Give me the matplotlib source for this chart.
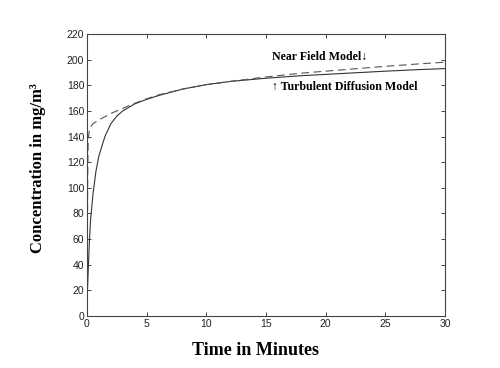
import matplotlib
matplotlib.use("Agg")
import matplotlib.pyplot as plt

# Turbulent diffusion model (solid)
t_solid = [0, 0.1, 0.2, 0.3, 0.5, 0.75, 1, 1.5, 2, 2.5, 3, 4, 5, 6, 8, 10, 12, 15, 18, 20, 22, 25, 28, 30]
c_solid = [10, 35, 58, 75, 95, 113, 125, 140, 150, 156, 160, 165.5, 169, 172, 177, 180.5, 183, 185.5,
           187.5, 188.5, 189.5, 191, 192.3, 193]

# Near field model (dashed)
t_dash = [0, 0.03, 0.06, 0.1, 0.2, 0.35, 0.5, 1, 1.5, 2, 3, 4, 5, 6, 8, 10, 12, 15, 18, 20, 22, 25, 28, 30]
c_dash = [5, 60, 110, 138, 145, 148, 150, 153, 155.5, 158, 162, 166, 169.5, 172.5, 177, 180.5, 183,
          186.5, 189.5, 191, 192.5, 194.8, 196.8, 198]

xticks = [0, 5, 10, 15, 20, 25, 30]
yticks = list(range(0, 221, 20))

fig = plt.figure(figsize=(5, 3.68), dpi=100)
ax = fig.add_axes([0.174, 0.1413, 0.716, 0.7663])

ax.plot(t_solid, c_solid, color="#333333", lw=0.8)
ax.plot(t_dash, c_dash, color="#555555", lw=0.8, dashes=(7, 4))

ax.set_xlim(0, 30)
ax.set_ylim(0, 220)
ax.set_xticks(xticks)
ax.set_yticks(yticks)
ax.tick_params(direction="in", top=True, right=True, length=3, width=0.6,
               labelsize=7.5, colors="#222222", pad=2)
for lab in ax.get_xticklabels() + ax.get_yticklabels():
    lab.set_family("Liberation Sans")
for s in ax.spines.values():
    s.set_color("#444444")
    s.set_linewidth(0.8)

ax.text(15.5, 202, "Near Field Model\u2193", fontsize=8.6, fontweight="bold",
        family=["Liberation Serif", "DejaVu Serif"], va="center", ha="left")
ax.text(15.5, 179, "\u2191 Turbulent Diffusion Model", fontsize=8.6, fontweight="bold",
        family=["Liberation Serif", "DejaVu Serif"], va="center", ha="left")

ax.set_xlabel("Time in Minutes", fontsize=13, fontweight="bold", family="Liberation Serif")
ax.set_ylabel("Concentration in mg/m\u00b3", fontsize=12, fontweight="bold", family="Liberation Serif")
ax.xaxis.set_label_coords((256 - 87) / 358, -0.092)
ax.yaxis.set_label_coords(-0.115, 0.525)

fig.savefig("out.png", dpi=100)
